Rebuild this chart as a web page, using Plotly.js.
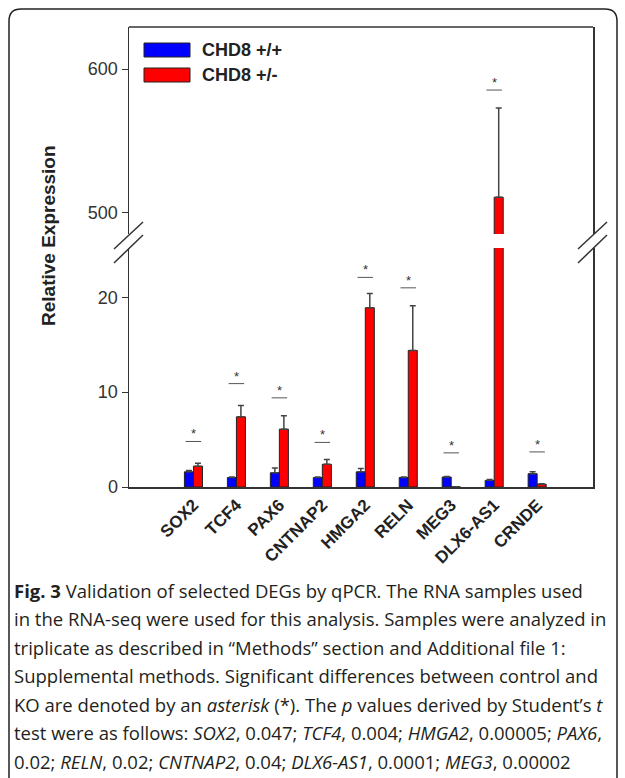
<!DOCTYPE html>
<html>
<head>
<meta charset="utf-8">
<script src="https://cdn.plot.ly/plotly-3.0.1.min.js"></script>
<style>html,body{margin:0;padding:0;background:#fff;}#chart{width:625px;height:778px;}</style>
</head>
<body>
<div id="chart"></div>
<script>
// ---- data ----
const genes = ["SOX2","TCF4","PAX6","CNTNAP2","HMGA2","RELN","MEG3","DLX6-AS1","CRNDE"];
const seriesNames = ["CHD8 +/+","CHD8 +/-"];
const wtValues  = [1.6, 1.0, 1.5, 1.0, 1.6, 1.0, 1.05, 0.7, 1.4];
const wtErr     = [0.15, 0.05, 0.5, 0.05, 0.35, 0.05, 0.05, 0.1, 0.2];
const hetValues = [2.2, 7.4, 6.1, 2.4, 18.9, 14.4, 0.02, 511, 0.3];
const hetErr    = [0.3, 1.2, 1.4, 0.5, 1.5, 4.7, 0, 62, 0.05];
const sigY      = [4.8, 10.9, 9.4, 4.7, 22.1, 21.0, 3.6, 585.4, 3.7];
const lowTicks  = [0, 10, 20];
const highTicks = [500, 600];
const captionLines = [
  "<b>Fig. 3</b> Validation of selected DEGs by qPCR. The RNA samples used",
  "in the RNA-seq were used for this analysis. Samples were analyzed in",
  "triplicate as described in \u201cMethods\u201d section and Additional file 1:",
  "Supplemental methods. Significant differences between control and",
  "KO are denoted by an <i>asterisk</i> (*). The <i>p</i> values derived by Student\u2019s <i>t</i>",
  "test were as follows: <i>SOX2</i>, 0.047; <i>TCF4</i>, 0.004; <i>HMGA2</i>, 0.00005; <i>PAX6</i>,",
  "0.02; <i>RELN</i>, 0.02; <i>CNTNAP2</i>, 0.04; <i>DLX6-AS1</i>, 0.0001; <i>MEG3</i>, 0.00002"
];
const lowRange = [0, 25.2];
const highRange = [485.4, 629.2];

// ---- geometry helpers (pixel -> paper) ----
const L = 129, R = 593, T = 27, B = 487;
const W = R - L, H = B - T;
const px = x => (x - L) / W;
const py = y => (B - y) / H;

const colors = ["#0000ff", "#ff0000"];
const axisColor = "#333333";
const sans = "Liberation Sans, Arial, sans-serif";

function barTrace(vals, errs, idx, yaxis) {
  return {
    type: "bar", x: genes, y: vals, name: seriesNames[idx], yaxis: yaxis, xaxis: "x",
    marker: {color: colors[idx], line: {color: "#222", width: 1}},
    error_y: {type: "data", symmetric: false, array: errs, arrayminus: errs.map(() => 0),
              color: "#444", thickness: 1.5, width: 3},
    showlegend: false, hoverinfo: "skip"
  };
}
const data = [
  barTrace(wtValues, wtErr, 0, "y"),
  barTrace(hetValues, hetErr, 1, "y"),
  barTrace(wtValues, wtErr, 0, "y2"),
  barTrace(hetValues, hetErr, 1, "y2")
];

const shapes = [];
const annotations = [];

// significance marks
sigY.forEach((v, i) => {
  const yr = v > lowRange[1] ? "y2" : "y";
  shapes.push({type: "line", xref: "x", yref: yr, x0: i - 0.18, x1: i + 0.18, y0: v, y1: v,
               line: {color: "#555", width: 1}});
  annotations.push({x: genes[i], y: v, xref: "x", yref: yr, text: "*", showarrow: false,
                    yanchor: "bottom", yshift: -2, font: {family: sans, size: 13, color: "#333"}});
});

// top frame line of plot
shapes.push({type: "line", xref: "paper", yref: "paper", x0: 0, x1: 1, y0: 1, y1: 1,
             line: {color: axisColor, width: 1.5}});

// axis break marks
[L, R].forEach(ax => {
  [[249, 222], [263, 235]].forEach(([ya, yb]) => {
    shapes.push({type: "line", xref: "paper", yref: "paper",
                 x0: px(ax - 15), y0: py(ya), x1: px(ax + 14), y1: py(yb),
                 line: {color: "#333", width: 1.5}});
  });
});

// legend (manual)
[[43, 57], [68, 82]].forEach(([y0, y1], i) => {
  shapes.push({type: "rect", xref: "paper", yref: "paper", x0: px(144), x1: px(190), y0: py(y1), y1: py(y0),
               fillcolor: colors[i], line: {color: "#222", width: 1}});
  annotations.push({xref: "paper", yref: "paper", x: px(200), y: py((y0 + y1) / 2), xanchor: "left",
                    yanchor: "middle", showarrow: false, text: "<b>" + seriesNames[i] + "</b>",
                    font: {family: sans, size: 18, color: "#222"}});
});

// y axis title
annotations.push({xref: "paper", yref: "paper", x: px(48), y: py(236), textangle: -90, showarrow: false,
                  xanchor: "center", yanchor: "middle", text: "<b>Relative Expression</b>",
                  font: {family: sans, size: 19, color: "#222"}});

// outer rounded frame
const fl = 9, ft = 9, fr = 617, fb = 800, rad = 12;
shapes.push({type: "path", xref: "paper", yref: "paper",
  path: `M${px(fl)},${py(fb)} L${px(fl)},${py(ft + rad)} Q${px(fl)},${py(ft)} ${px(fl + rad)},${py(ft)} ` +
        `L${px(fr - rad)},${py(ft)} Q${px(fr)},${py(ft)} ${px(fr)},${py(ft + rad)} L${px(fr)},${py(fb)}`,
  line: {color: "#222", width: 1.5}});

// caption
captionLines.forEach((t, i) => {
  annotations.push({xref: "paper", yref: "paper", x: px(12), y: py(590 + i * 28.5), xanchor: "left",
                    yanchor: "middle", showarrow: false, text: t, align: "left",
                    font: {family: "Open Sans, sans-serif", size: 18.5, color: "#231f20"}});
});

const yCommon = {
  showline: true, mirror: true, linecolor: axisColor, linewidth: 1.5, ticks: "outside", ticklen: 6,
  tickcolor: axisColor, tickwidth: 1, showgrid: false, zeroline: false, fixedrange: true,
  tickfont: {family: sans, size: 18, color: "#333"}
};

const layout = {
  width: 625, height: 778,
  margin: {l: L, r: 625 - R, t: T, b: 778 - B},
  paper_bgcolor: "#fff", plot_bgcolor: "#fff",
  barmode: "group", bargap: 0.58, bargroupgap: 0,
  showlegend: false,
  xaxis: {type: "category", categoryorder: "array", categoryarray: genes, range: [-1.5, 9.3],
          showline: true, linecolor: axisColor, linewidth: 1.5, ticks: "", tickangle: -45,
          showgrid: false, zeroline: false, fixedrange: true,
          tickfont: {family: sans, size: 17, color: "#222", weight: "bold"}},
  yaxis: Object.assign({}, yCommon, {domain: [0, py(248)], range: lowRange, tickvals: lowTicks}),
  yaxis2: Object.assign({}, yCommon, {domain: [py(234), 1], range: highRange, tickvals: highTicks, anchor: "x"}),
  shapes: shapes,
  annotations: annotations
};

Plotly.newPlot("chart", data, layout, {displayModeBar: false, staticPlot: true});
</script>
</body>
</html>
